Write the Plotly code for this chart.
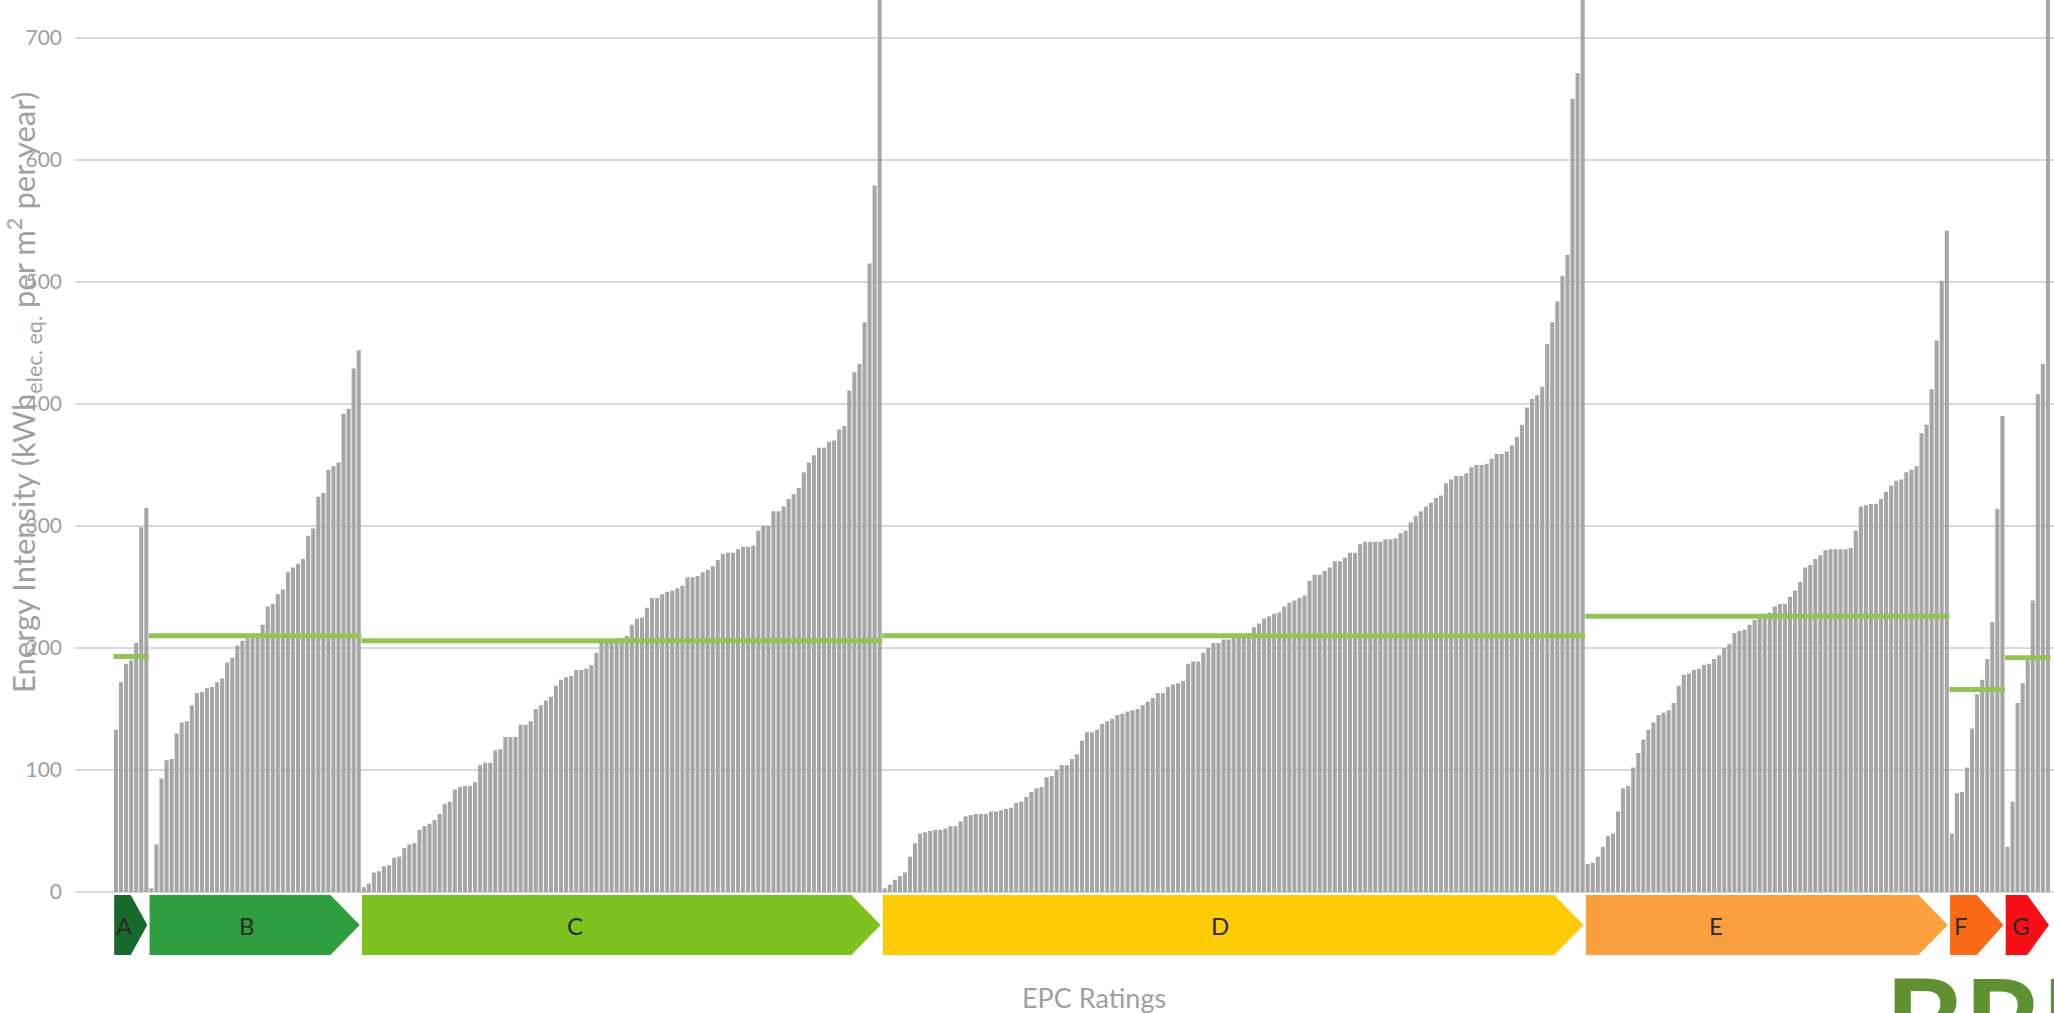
import plotly.graph_objects as go

# ---------------- data ----------------
ratings = ["A", "B", "C", "D", "E", "F", "G"]

A_vals = [133, 172, 187, 190, 204, 299, 315]
B_vals = [3, 39, 93, 108, 109, 130, 139, 140, 153, 163, 164, 167, 168, 172, 175, 188, 192, 202, 206, 208,
          208, 210, 219, 234, 236, 244, 248, 262, 266, 269, 273, 292, 298, 324, 327, 346, 349, 352, 392, 396,
          429, 444]
C_vals = [4, 7, 16, 17, 21, 22, 28, 29, 36, 39, 40, 51, 54, 56, 59, 64, 72, 74, 84, 86,
          87, 87, 90, 104, 106, 106, 116, 117, 127, 127, 127, 137, 137, 140, 150, 153, 157, 160, 169, 174,
          176, 177, 182, 182, 183, 186, 196, 204, 205, 206, 207, 208, 210,
          219, 224, 225, 233, 241, 241, 244, 246, 247, 249, 251, 258, 258, 259, 262, 264, 267, 272, 277, 278,
          278, 281, 283, 283, 284, 296, 300, 300, 312, 312, 316, 322, 326, 331, 344, 352, 358, 364, 364, 369,
          370, 379, 382, 411, 426, 433, 467, 515, 579, 780]
D_vals = [3, 6, 10, 13, 16, 29, 40, 48, 49, 50, 51, 51, 52, 54, 54, 58, 62, 63, 64, 64,
          64, 66, 66, 67, 68, 69, 73, 74, 78, 82, 85, 86, 94, 95, 100, 104, 104, 109, 113, 124,
          131, 131, 133, 138, 140, 142, 145, 146, 148, 149, 150, 153, 156, 159, 163, 163, 168, 170, 171, 173,
          187, 189, 189, 196, 200, 204, 204, 207, 207,
          210, 210, 211, 212, 217, 220, 224, 226, 228, 229, 234, 237, 239, 241, 243, 255, 260, 260, 263, 266,
          271, 271, 274, 278, 278, 285, 287, 287, 287, 287, 289, 289, 290, 294, 296, 303, 308, 312, 316, 319,
          323, 325, 335, 338, 341, 341, 343, 348, 350, 350, 351, 355, 359, 359, 361, 366, 373, 383, 397, 404,
          407, 414, 449, 467, 484, 505, 522, 650, 671, 780]
E_vals = [23, 24, 29, 37, 46, 48, 66, 85, 87, 102, 114, 125, 133, 139, 145, 147, 149, 155, 169, 178,
          179, 182, 183, 186, 187, 191, 194, 200, 203, 212, 214, 215, 219, 223, 227, 228, 229, 234, 236, 236,
          242, 247, 254, 266, 268, 273, 276, 280, 281, 281, 281, 281, 282, 296, 316, 317, 318, 318, 322, 328,
          333, 337, 338, 344, 346, 349, 376, 383, 412, 452, 501, 542]
F_vals = [48, 81, 82, 102, 134, 162, 174, 191, 221, 314, 390]
G_vals = [37, 74, 155, 171, 190, 239, 408, 433, 780]

group_values = [A_vals, B_vals, C_vals, D_vals, E_vals, F_vals, G_vals]
group_means = [193, 210, 206, 210, 226, 166, 192]

y_ticks = [0, 100, 200, 300, 400, 500, 600, 700]

x_title = "EPC Ratings"
y_title = "Energy Intensity (kWh<sub>elec. eq.</sub> per m<sup>2</sup> per year)"
logo_text = "BRE"

# ---------------- style ----------------
band_colors = ["#17692c", "#2f9e3e", "#7dc21e", "#fecb07", "#fba03f", "#fa6a16", "#f70f15"]
label_frac = [0.30, 0.46, 0.41, 0.48, 0.36, 0.21, 0.36]
bar_color = "#a6a6a6"
mean_color = "#93c256"
font_family = "Lato, 'Open Sans', sans-serif"
text_grey = "#a0a0a0"

W, H = 2054, 1013
ML, MR, MT, MB = 75, 0, 0, 53
PW, PH = W - ML - MR, H - MT - MB

y_top, y_bottom = 731, -55.7
band_top, band_bot = -2.5, -51.6


def px_x(px):
    return (px - ML) / PW


def px_y(py):
    return (H - MB - py) / PH


# ---------------- build ----------------
xs, ys = [], []
starts, ends = [], []
i = 0
for vals in group_values:
    starts.append(i)
    for v in vals:
        xs.append(i)
        ys.append(v)
        i += 1
    ends.append(i - 1)

fig = go.Figure()
fig.add_trace(go.Bar(x=xs, y=ys, marker=dict(color=bar_color, line=dict(width=0)),
                     hoverinfo="y", showlegend=False))

for s, e, m in zip(starts, ends, group_means):
    fig.add_trace(go.Scatter(x=[s - 0.5, e + 0.5], y=[m, m], mode="lines",
                             line=dict(color=mean_color, width=5), hoverinfo="skip",
                             showlegend=False))

shapes = []
annotations = []
ym = (band_top + band_bot) / 2
for name, s, e, col, frac in zip(ratings, starts, ends, band_colors, label_frac):
    x0 = s - 0.5 + 0.15
    xt = e + 0.5 - 0.3
    d = min(5.8, (xt - x0) * 0.5)
    path = (f"M {x0},{band_top} L {xt - d},{band_top} L {xt},{ym} "
            f"L {xt - d},{band_bot} L {x0},{band_bot} Z")
    shapes.append(dict(type="path", path=path, xref="x", yref="y",
                       fillcolor=col, line=dict(width=0), layer="above"))
    annotations.append(dict(x=s - 0.5 + frac * (e - s + 1), y=ym, xref="x", yref="y",
                            text=name, showarrow=False,
                            font=dict(family=font_family, size=24, color="#2a2a2a")))

annotations.append(dict(x=px_x(1094), y=px_y(997), xref="paper", yref="paper", text=x_title,
                        xanchor="center", yanchor="middle", showarrow=False,
                        font=dict(family=font_family, size=27, color=text_grey)))
annotations.append(dict(x=px_x(24), y=px_y(393), xref="paper", yref="paper", text=y_title,
                        xanchor="center", yanchor="middle", textangle=-90, showarrow=False,
                        font=dict(family=font_family, size=31, color=text_grey)))
annotations.append(dict(x=px_x(1884), y=px_y(947), xref="paper", yref="paper", text=logo_text,
                        xanchor="left", yanchor="top", showarrow=False, borderpad=0,
                        font=dict(family=font_family, size=120, color="#5f9132", weight="bold")))

fig.update_layout(
    width=W, height=H,
    margin=dict(l=ML, r=MR, t=MT, b=MB, autoexpand=False),
    paper_bgcolor="white", plot_bgcolor="white",
    bargap=0.2,
    shapes=shapes,
    annotations=annotations,
    showlegend=False,
    xaxis=dict(range=[-8.1, 383.2], showgrid=False, zeroline=False, showticklabels=False,
               ticks="", showline=False, automargin=False),
    yaxis=dict(range=[y_bottom, y_top], tickvals=y_ticks, ticktext=[str(t) for t in y_ticks],
               showgrid=True, gridcolor="#d9d9d9", gridwidth=2, zeroline=False, showline=False,
               ticks="", ticklabelstandoff=12, automargin=False,
               tickfont=dict(family=font_family, size=21, color=text_grey)),
)

fig.write_html("out.html", config={"displayModeBar": False},
               post_script="document.body.style.margin='0';document.body.style.overflow='hidden';")
